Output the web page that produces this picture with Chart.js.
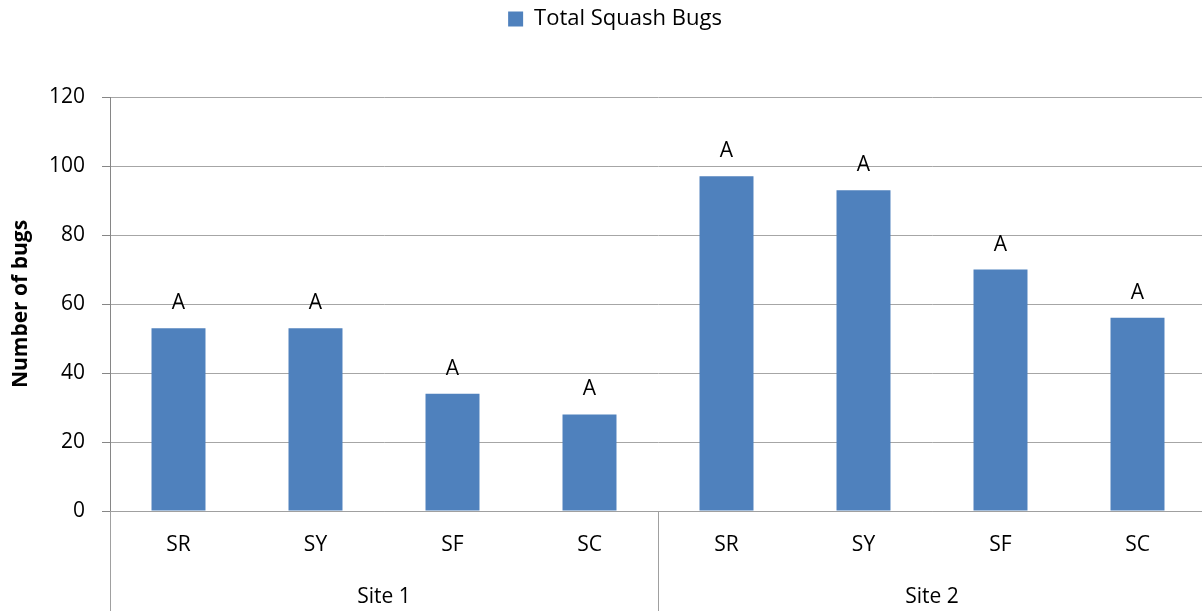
<!DOCTYPE html>
<html lang="en">
<head>
  <meta charset="UTF-8" />
  <title>Total Squash Bugs</title>
  <script src="https://cdn.jsdelivr.net/npm/chart.js"></script>
  <style>
    html, body { margin: 0; padding: 0; background: #fff; overflow: hidden; }
    #wrap { width: 1206px; height: 611px; }
  </style>
</head>
<body>
  <div id="wrap"><canvas id="bugChart" width="1206" height="611"></canvas></div>

  <script>
    // Data
    const treatments = ['SR', 'SY', 'SF', 'SC', 'SR', 'SY', 'SF', 'SC'];
    const sites = ['Site 1', 'Site 2'];
    const siteSize = [4, 4];
    const totalBugs = [53, 53, 34, 28, 97, 93, 70, 56];
    const sigLetters = ['A', 'A', 'A', 'A', 'A', 'A', 'A', 'A'];

    const FONT = "'Open Sans', 'Lato', sans-serif";

    // legend block is taller in the original: push plot down
    const legendSpace = {
      id: 'legendSpace',
      beforeLayout(chart) {
        const lg = chart.legend;
        if (lg && !lg._patched) {
          const fit = lg.fit;
          lg.fit = function () {
            fit.call(this);
            this.height = 97;
          };
          lg._patched = true;
        }
      },
      afterLayout(chart) {
        // legend sits a bit right of centre in the original
        chart.legend.left += 12;
        chart.legend.right += 12;
      }
    };

    // letters above each bar
    const letterPlugin = {
      id: 'letters',
      afterDatasetsDraw(chart) {
        const ctx = chart.ctx;
        ctx.save();
        ctx.fillStyle = '#000';
        ctx.font = '21px ' + FONT;
        ctx.textAlign = 'center';
        ctx.textBaseline = 'alphabetic';
        chart.getDatasetMeta(0).data.forEach((bar, i) => {
          ctx.fillText(sigLetters[i], bar.x, bar.y - 19);
        });
        ctx.restore();
      }
    };

    // second level of the category axis (Site 1 / Site 2)
    const groupPlugin = {
      id: 'groups',
      afterDraw(chart) {
        const ctx = chart.ctx;
        const x = chart.scales.x;
        const area = chart.chartArea;
        const step = x.getPixelForValue(1) - x.getPixelForValue(0);
        const bottom = chart.height;
        ctx.save();
        ctx.strokeStyle = '#a0a0a0';
        ctx.lineWidth = 1;
        ctx.fillStyle = '#000';
        ctx.font = '21px ' + FONT;
        ctx.textAlign = 'center';
        ctx.textBaseline = 'middle';
        let start = 0;
        sites.forEach((name, g) => {
          const end = start + siteSize[g] - 1;
          const left = x.getPixelForValue(start) - step / 2;
          const right = x.getPixelForValue(end) + step / 2;
          [left, right].forEach(px => {
            ctx.beginPath();
            ctx.moveTo(Math.round(px) + 0.5, area.bottom);
            ctx.lineTo(Math.round(px) + 0.5, bottom);
            ctx.stroke();
          });
          ctx.fillText(name, (left + right) / 2, 597);
          start = end + 1;
        });
        ctx.restore();
      }
    };

    new Chart(document.getElementById('bugChart'), {
      type: 'bar',
      data: {
        labels: treatments,
        datasets: [{
          label: 'Total Squash Bugs',
          data: totalBugs,
          backgroundColor: '#4F81BD',
          borderWidth: 0,
          barPercentage: 1,
          categoryPercentage: 0.394
        }]
      },
      options: {
        responsive: false,
        animation: false,
        layout: { padding: 0 },
        plugins: {
          legend: {
            position: 'top',
            labels: {
              boxWidth: 15,
              boxHeight: 15,
              padding: 8,
              color: '#000',
              font: { family: FONT, size: 22 }
            }
          },
          tooltip: { enabled: false }
        },
        scales: {
          x: {
            grid: { display: false },
            border: { display: true, color: '#a0a0a0' },
            ticks: {
              color: '#000',
              padding: 13,
              maxRotation: 0,
              font: { family: FONT, size: 21 }
            },
            afterFit(scale) { scale.height = 100; }
          },
          y: {
            min: 0,
            max: 120,
            ticks: {
              stepSize: 20,
              color: '#000',
              padding: 17,
              font: { family: FONT, size: 21 }
            },
            grid: { color: '#a6a6a6', tickLength: 8, tickColor: '#868686' },
            border: { display: true, color: '#868686' },
            title: {
              display: true,
              text: 'Number of bugs',
              color: '#000',
              padding: { top: 8, bottom: 4 },
              font: { family: FONT, size: 21, weight: 'bold' }
            },
            afterFit(scale) { scale.width = 110; }
          }
        }
      },
      plugins: [legendSpace, letterPlugin, groupPlugin]
    });
  </script>
</body>
</html>
